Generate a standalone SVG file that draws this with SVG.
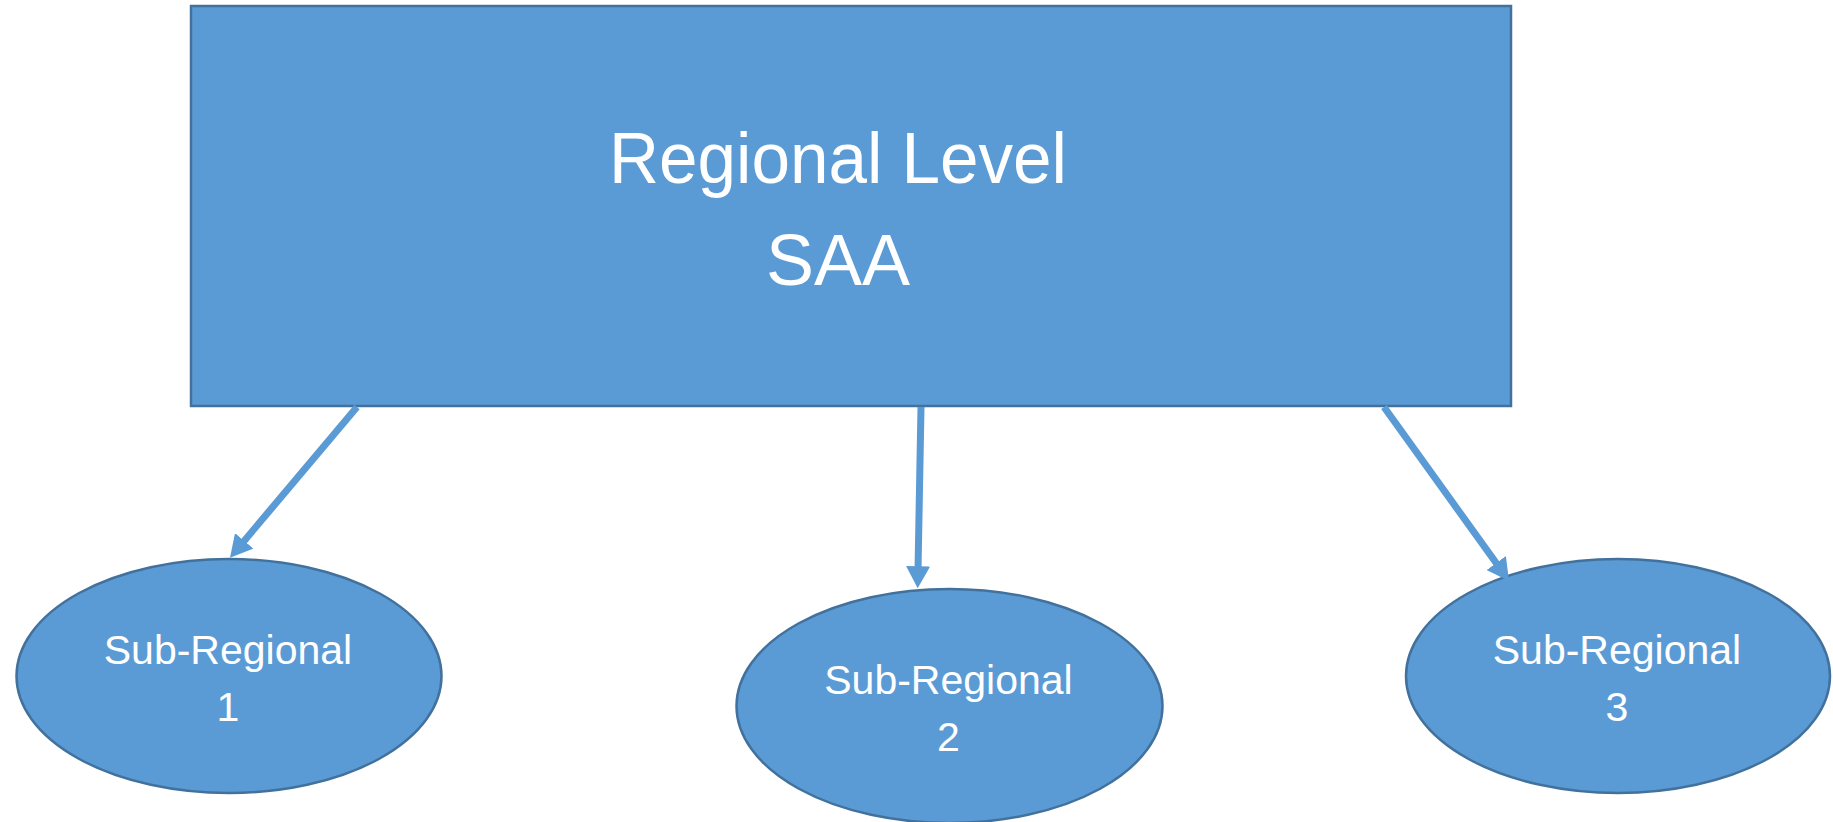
<svg xmlns="http://www.w3.org/2000/svg" width="1833" height="822" viewBox="0 0 1833 822">
<style>
.shape{fill:#5b9bd5;stroke:#41719c;stroke-width:2.5}
.lbl{fill:#ffffff;font-family:"Liberation Sans",Arial,sans-serif;text-anchor:middle}
.big{font-size:72px}
.small{font-size:41px}
.conn{stroke:#5b9bd5;stroke-width:7;fill:none;marker-end:url(#ah)}
</style>
<defs>
<marker id="ah" markerUnits="userSpaceOnUse" markerWidth="22" markerHeight="24" refX="4" refY="12" orient="auto">
<path d="M0,0 L22,12 L0,24 z" fill="#5b9bd5"/>
</marker>
</defs>
<rect width="1833" height="822" fill="#ffffff"/>
<g id="regional">
<rect class="shape" x="191" y="6" width="1320" height="400"/>
<text class="lbl big" x="838" y="183" textLength="458" lengthAdjust="spacingAndGlyphs">Regional Level</text>
<text class="lbl big" x="838" y="285">SAA</text>
</g>
<g id="sub1">
<ellipse class="shape" cx="229" cy="676" rx="212.5" ry="117"/>
<text class="lbl small" x="228" y="664">Sub-Regional</text>
<text class="lbl small" x="228" y="721">1</text>
</g>
<g id="sub2">
<ellipse class="shape" cx="949.5" cy="706" rx="213" ry="117"/>
<text class="lbl small" x="948.5" y="694">Sub-Regional</text>
<text class="lbl small" x="948.5" y="751">2</text>
</g>
<g id="sub3">
<ellipse class="shape" cx="1618" cy="676" rx="212" ry="117"/>
<text class="lbl small" x="1617" y="664">Sub-Regional</text>
<text class="lbl small" x="1617" y="721">3</text>
</g>
<g id="connectors">
<line class="conn" x1="357" y1="407" x2="241.6" y2="543.9"/>
<line class="conn" x1="921" y1="407" x2="918" y2="570.3"/>
<line class="conn" x1="1384" y1="407" x2="1498.5" y2="566.3"/>
</g>
</svg>
